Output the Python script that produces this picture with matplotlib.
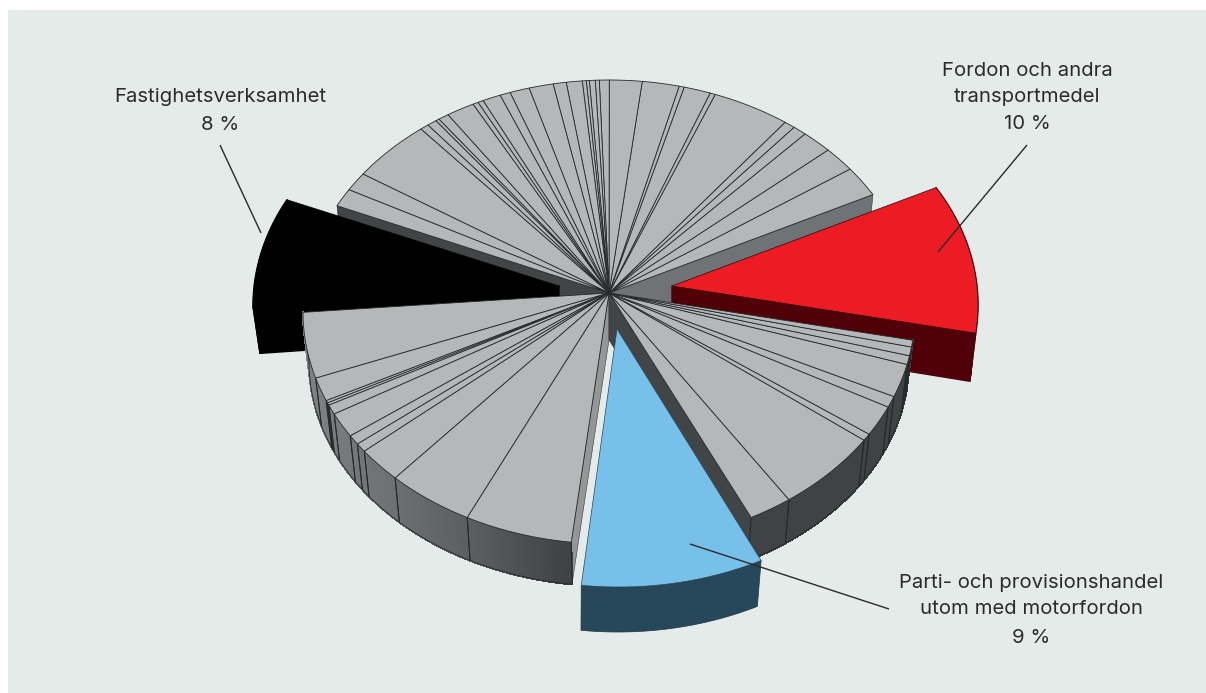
import numpy as np
import matplotlib
matplotlib.use("Agg")
import matplotlib.pyplot as plt
from matplotlib.collections import PolyCollection
from matplotlib.patches import Rectangle, Polygon

# ---- data: shares of the whole, percent, walking counter-clockwise ----
top_group = [2.12, 1.74, 1.63, 0.73, 0.58, 4.12, 0.28, 1.41, 0.27, 1.95, 1.72,
             0.52, 0.21, 0.31, 0.16, 0.21, 0.84, 0.69, 1.28, 1.04, 0.55, 0.96,
             0.29, 0.29, 1.49, 0.56, 0.19, 0.51, 0.46, 4.33, 1.30, 1.26]
black_share = [7.6]
left_group = [4.58, 1.64, 0.17, 0.17, 0.67, 1.72, 0.67, 0.61, 2.44, 4.65, 5.70]
blue_share = [9.66]
right_group = [2.32, 5.68, 0.49, 2.11, 0.78, 2.31, 0.61, 0.61, 0.47]
red_share = [10.39]

label_black = ["Fastighetsverksamhet", "8 %"]
label_red = ["Fordon och andra", "transportmedel", "10 %"]
label_blue = ["Parti- och provisionshandel", "utom med motorfordon", "9 %"]

# ---- styling / projection ----
START = 30.4
PANEL = "#e5ebe9"
GRAY = "#b5b8b9"
LINE = "#26282a"
TXT = "#2b2b2b"
FONT = "Inter"
FS = 14.6
A = np.array([609.0, 293.0])
B = np.array([609.0, 340.0])


def top(t):
    t = np.radians(t)
    return np.column_stack([609 + 306 * np.cos(t), 312 - 232 * np.sin(t)])


def low(t):
    t = np.radians(t)
    return np.column_stack([609 + 300 * np.cos(t), 362 - 224 * np.sin(t)])


def arc(a, b):
    return np.linspace(a, b, max(3, int(abs(b - a) * 2) + 2))


def shade(t):
    g = np.interp(t, [180, 200, 225, 245, 262, 300, 400],
                  [.50, .49, .43, .35, .25, .25, .25])
    return (g, g + .012, g + .02)


total = sum(top_group) + sum(black_share) + sum(left_group) + sum(blue_share) + sum(right_group) + sum(red_share)
scale = 360.0 / total


def spans(values, start):
    out = []
    cur = start
    for v in values:
        out.append((cur, cur + v * scale))
        cur += v * scale
    return out, cur


top_sp, c = spans(top_group, START)
black_sp, c = spans(black_share, c)
left_sp, c = spans(left_group, c)
blue_sp, c = spans(blue_share, c)
right_sp, c = spans(right_group, c)
red_sp, c = spans(red_share, c)

fig = plt.figure(figsize=(12.06, 6.93), dpi=100, facecolor="white")
ax = fig.add_axes([0, 0, 1, 1])
ax.set_xlim(0, 1206)
ax.set_ylim(693, 0)
ax.axis("off")
ax.add_patch(Rectangle((8, 10), 1198, 683, fc=PANEL, ec="none", zorder=0))

z = [1]


def poly(pts, fc, ec="none", lw=0.0):
    z[0] += 1
    ax.add_patch(Polygon(np.asarray(pts), closed=True, fc=fc, ec=ec, lw=lw, zorder=z[0], joinstyle="round"))


def face(t, fc):
    poly([A, top([t])[0], low([t])[0], B], fc, ec=LINE, lw=0.35)


def outer_side(sp):
    for a, b in sp:
        tt = arc(a, b)
        quads = []
        cols = []
        for i in range(len(tt) - 1):
            p = top(tt[i:i + 2])
            q = low(tt[i:i + 2])
            quads.append([p[0], p[1], q[1], q[0]])
            cols.append(shade((tt[i] + tt[i + 1]) / 2))
        z[0] += 1
        ax.add_collection(PolyCollection(quads, facecolors=cols, edgecolors=cols,
                                         linewidths=0.8, antialiaseds=False, zorder=z[0]))
    z[0] += 1
    for a, b in sp:
        for t in (a, b):
            p, q = top([t])[0], low([t])[0]
            ax.plot([p[0], q[0]], [p[1], q[1]], color=LINE, lw=0.7, zorder=z[0], solid_capstyle="butt")
    tt = arc(sp[0][0], sp[-1][1])
    q = low(tt)
    ax.plot(q[:, 0], q[:, 1], color=LINE, lw=0.6, zorder=z[0])


def top_faces(sp):
    for a, b in sp:
        poly(np.vstack([A, top(arc(a, b))]), GRAY, ec=LINE, lw=0.6)


def exploded(sp, apex_shift, rim_shift, low_shift, wall_end, fc, side_fc, ec):
    a, b = sp[0]
    tt = arc(a, b)
    p = top(tt) + rim_shift
    q = low(tt) + low_shift
    ap = A + apex_shift
    poly(np.vstack([p, q[::-1]]), side_fc, ec=side_fc, lw=1.0)
    # wall of the cut that faces the viewer
    poly([ap, p[wall_end], q[wall_end], ap + [0, 47]], side_fc, ec=side_fc, lw=1.0)
    poly(np.vstack([ap, p]), fc, ec=ec, lw=0.5)


# walls facing the gaps
face(top_sp[0][0], "#6f7375")
face(top_sp[-1][1], "#414546")
top_faces(top_sp)

# slices pulled out to the back
exploded(black_sp, np.array([-50., -7.]), np.array([-50., -6.]), np.array([-49., -9.]), -1,
         "#000000", "#000000", "#000000")
exploded(red_sp, np.array([63., -7.]), np.array([63., -7.]), np.array([63., -8.]), 0,
         "#ed1c24", "#4f0009", "#26060a")

# front of the pie
face(left_sp[-1][1], "#949697")
outer_side(left_sp)
top_faces(left_sp)
face(right_sp[0][0], "#414546")
outer_side(right_sp)
top_faces(right_sp)

# blue slice in front
a, b = blue_sp[0]
tt = arc(a, b)
p = top(tt) + [10, 43]
q = low(tt) + [9, 46]
poly(np.vstack([p, q[::-1]]), "#27475a", ec="#1d3340", lw=0.5)
poly(np.vstack([A + [8, 36], p]), "#77c0ea", ec="#2a4656", lw=0.5)

# leaders
z[0] += 1
for (x0, y0, x1, y1) in [(220, 145, 261, 233), (1027, 145, 938, 252), (690, 544, 889, 609)]:
    ax.plot([x0, x1], [y0, y1], color="#2a2a2a", lw=1.0, zorder=z[0], solid_capstyle="butt")


def label(lines, x, ys):
    for s, y in zip(lines, ys):
        ax.text(x, y, s, ha="center", va="center", fontsize=FS, family=FONT, color=TXT, zorder=z[0] + 1)


label(label_black, 220, [97, 125])
label(label_red, 1027, [71, 97, 124])
label(label_blue, 1031, [583, 609, 638])

fig.savefig("out.png", dpi=100, facecolor="white")
